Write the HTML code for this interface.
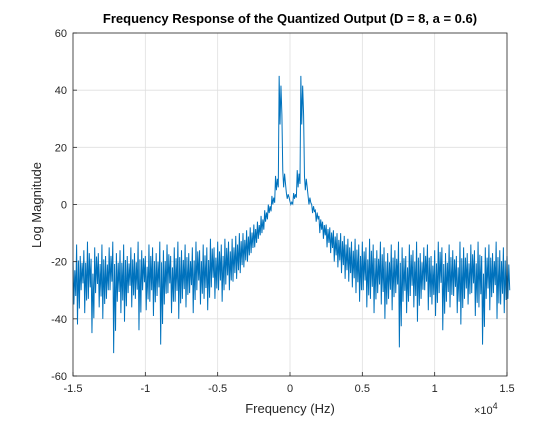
<!DOCTYPE html>
<html><head><meta charset="utf-8"><style>
body{margin:0;background:#fff;font-family:"Liberation Sans",Arial,sans-serif}
svg text{font-family:"Liberation Sans",Arial,sans-serif}
</style></head><body>
<svg id="chart" width="560" height="420" viewBox="0 0 560 420" xmlns="http://www.w3.org/2000/svg">
<rect width="560" height="420" fill="#fff"/>
<g id="grid"></g>
<g id="series"></g>
<rect x="73" y="33" width="434" height="343" fill="none" stroke="#262626" stroke-width="0.8"/>
<g id="ticks"></g>
<text x="290" y="23" text-anchor="middle" font-size="13" font-weight="bold" fill="#000">Frequency Response of the Quantized Output (D = 8, a = 0.6)</text>
<text x="290" y="413" text-anchor="middle" font-size="13" fill="#262626">Frequency (Hz)</text>
<text transform="translate(41,205) rotate(-90)" text-anchor="middle" font-size="13" fill="#262626">Log Magnitude</text>
<text x="474" y="414" font-size="11" fill="#262626">×10<tspan dy="-5" font-size="9">4</tspan></text>
</svg>
<script>
const xTicks=[-15000,-10000,-5000,0,5000,10000,15000];
const xTickLabels=["-1.5","-1","-0.5","0","0.5","1","1.5"];
const yTicks=[-60,-40,-20,0,20,40,60];
const freqs=[];
for(let f=-15000;f<=15000;f+=250)freqs.push(f);
const upperNeg=[-20,-14,-18,-16,-13,-19,-15,-17,-14,-18,-15,-13,-17,-16,-14,-18,-15,-17,-13,-16,-18,-14,-15,-17,-13,-16,-14,-18,-15,-13,-16,-14,-17,-15,-13,-16,-14,-15,-12,-15,-13,-14,-12,-13];
const lowerNeg=[-35,-42,-30,-38,-33,-45,-31,-36,-40,-33,-30,-52,-34,-38,-41,-31,-36,-33,-44,-30,-37,-34,-39,-32,-49,-35,-31,-38,-34,-40,-33,-36,-31,-38,-30,-35,-33,-37,-29,-33,-30,-34,-28,-30];
const upperCore=[-12,-11,-10,-10,-9,-8,-7,-6,-4,-2,0,3,10,45,12,4,1,4,12,45,10,3,0,-2,-4,-6,-7,-8,-9,-10,-10,-11,-12];
const lowerCore=[-27,-26,-24,-22,-20,-17,-15,-12,-10,-6,-3,0,5,28,6,2,0,2,6,28,5,0,-3,-6,-10,-12,-15,-17,-20,-22,-24,-26,-27];
const upperPos=[-13,-12,-14,-13,-15,-12,-14,-16,-13,-15,-17,-14,-16,-13,-15,-18,-14,-16,-13,-17,-15,-14,-18,-16,-13,-15,-17,-14,-16,-18,-13,-15,-17,-14,-16,-13,-18,-15,-14,-17,-13,-16,-15,-18];
const lowerPos=[-29,-31,-34,-30,-36,-33,-38,-31,-35,-40,-33,-37,-31,-50,-34,-38,-32,-36,-41,-33,-30,-37,-35,-39,-31,-44,-34,-36,-32,-38,-42,-33,-35,-31,-39,-36,-49,-33,-37,-31,-40,-35,-38,-33];
const upper=upperNeg.concat(upperCore,upperPos);
const lower=lowerNeg.concat(lowerCore,lowerPos);
const X=f=>73+(f+15000)/30000*434;
const Y=v=>376-(v+60)/120*343;
const NS="http://www.w3.org/2000/svg";
const grid=document.getElementById('grid'),ticks=document.getElementById('ticks'),series=document.getElementById('series');
function mk(tag,attrs,parent){const e=document.createElementNS(NS,tag);for(const k in attrs)e.setAttribute(k,attrs[k]);parent.appendChild(e);return e;}
xTicks.forEach((t,i)=>{
 const gl=mk('line',{x1:X(t),x2:X(t),y1:33,y2:376,stroke:'#dfdfdf','stroke-width':0.8},grid);
 
 
 const tk=mk('line',{x1:X(t),x2:X(t),y1:376,y2:372,stroke:'#262626','stroke-width':0.8},ticks);
 
 
 const tx=mk('text',{x:X(t),y:392,'text-anchor':'middle','font-size':11,fill:'#262626'},ticks);
 tx.textContent=xTickLabels[i];
 
 
});
yTicks.forEach(t=>{
 const gl=mk('line',{x1:73,x2:507,y1:Y(t),y2:Y(t),stroke:'#dfdfdf','stroke-width':0.8},grid);
 
 
 const tk=mk('line',{x1:73,x2:77,y1:Y(t),y2:Y(t),stroke:'#262626','stroke-width':0.8},ticks);
 
 
 const tx=mk('text',{x:67,y:Y(t)+4,'text-anchor':'end','font-size':11,fill:'#262626'},ticks);
 tx.textContent=String(t);
 
 
});
let pts=[];
for(let i=0;i<freqs.length;i++){
 pts.push(X(freqs[i])+','+Y(upper[i]));
 pts.push(X(freqs[i]+60)+','+Y(lower[i]));
 pts.push(X(freqs[i]+125)+','+Y((upper[i]+lower[i])/2+ (upper[i]-lower[i])*0.3));
 pts.push(X(freqs[i]+190)+','+Y(lower[i]+(upper[i]-lower[i])*0.2));
}
const pl=mk('polyline',{points:pts.join(' '),fill:'none',stroke:'#0072bd','stroke-width':1.0},series);


</script>
</body></html>
